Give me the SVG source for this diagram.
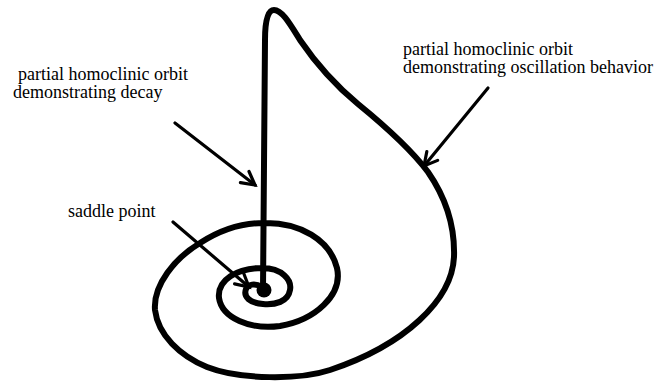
<svg xmlns="http://www.w3.org/2000/svg" width="660" height="383" viewBox="0 0 660 383">
<style>
text{font-family:"Liberation Serif","Times New Roman",serif;font-size:18px;fill:#000}
.orbit{fill:none;stroke:#000;stroke-width:6;stroke-linecap:round;stroke-linejoin:round}
.arrow{fill:none;stroke:#000;stroke-width:3.2;stroke-linecap:round}
</style>
<defs>
<marker id="vhead" markerUnits="userSpaceOnUse" markerWidth="20" markerHeight="20" viewBox="0 0 20 20" refX="16" refY="10" orient="auto">
<path d="M3,3 L16,10 L3,17" fill="none" stroke="#000" stroke-width="3.2" stroke-linecap="round" stroke-linejoin="miter"/>
</marker>
</defs>
<rect width="660" height="383" fill="#fff"/>
<g id="orbit">
<path class="orbit" d="M263 290 L265 40 C265 20 268 10 274 10 C282 10 290 24 300 40 C315 62 335 85 358 104 C385 126 410 148 428 172 C446 198 455 228 454 257 C452 300 405 345 330 370 C300 380 240 380 207 367 C180 356 158 335 155 310 C153 285 175 258 200 243 C220 230 243 223 263 223 C300 222 330 240 337 268 C343 295 315 320 280 326 C250 330 222 318 219 298 C217 280 237 268 262 268 C282 268 292 280 290 290 C288 302 275 305 263 304 C250 303 243 297 246 289 C248 284 255 283 262 287"/>
<circle id="saddle" cx="264" cy="290" r="7.5" fill="#000"/>
</g>
<g id="connectors">
<line class="arrow" x1="175" y1="123" x2="255" y2="185" marker-end="url(#vhead)"/>
<line class="arrow" x1="173" y1="222" x2="249" y2="287" marker-end="url(#vhead)"/>
<line class="arrow" x1="488" y1="88" x2="424" y2="166" marker-end="url(#vhead)"/>
</g>
<g id="label-decay">
<text x="18" y="80">partial homoclinic orbit</text>
<text x="13" y="98">demonstrating decay</text>
</g>
<g id="label-saddle">
<text x="68" y="217">saddle point</text>
</g>
<g id="label-oscillation">
<text x="403" y="55">partial homoclinic orbit</text>
<text x="403" y="73">demonstrating oscillation behavior</text>
</g>
</svg>
